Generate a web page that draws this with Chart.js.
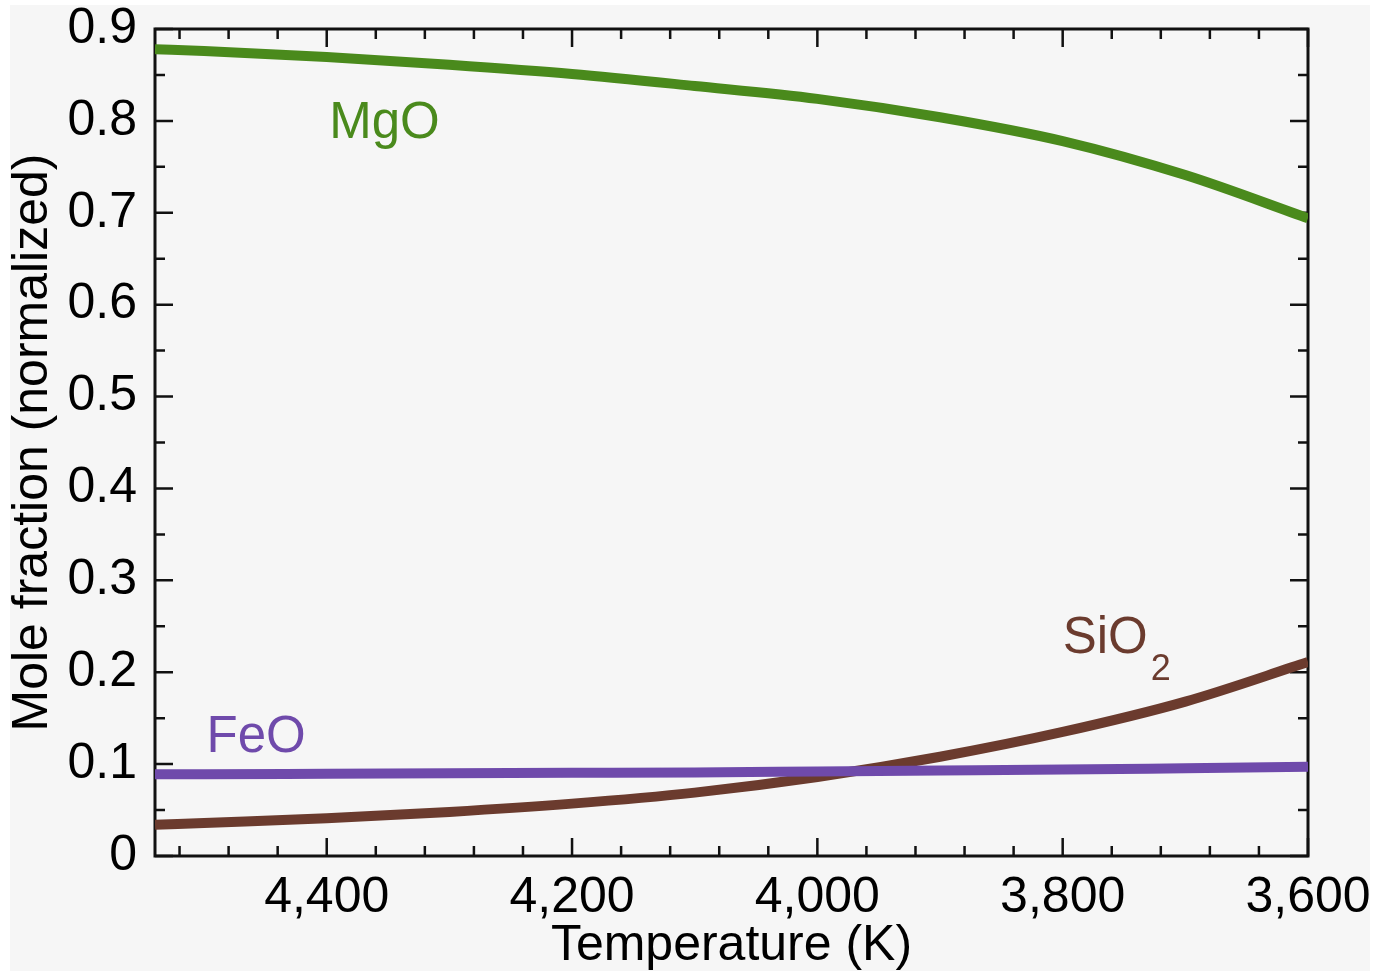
<!DOCTYPE html>
<html>
<head>
<meta charset="utf-8">
<script src="https://cdn.jsdelivr.net/npm/chart.js@4/dist/chart.umd.min.js"></script>
<style>
  html, body { margin: 0; padding: 0; background: #ffffff; }
  #wrap { position: absolute; left: 0; top: 0; width: 1390px; height: 971px; }
</style>
</head>
<body>
<div id="wrap"><canvas id="c" width="1390" height="971"></canvas></div>
<script>
// ---- data ----
const temperatures = [4540, 4500, 4400, 4300, 4200, 4100, 4000, 3900, 3800, 3700, 3600];
const mgoValues  = [0.878, 0.876, 0.8695, 0.861, 0.851, 0.838, 0.824, 0.804, 0.778, 0.741, 0.694];
const sio2Values = [0.034, 0.036, 0.041, 0.048, 0.057, 0.069, 0.086, 0.108, 0.135, 0.168, 0.211];
const feoValues  = [0.089, 0.089, 0.0895, 0.090, 0.0905, 0.091, 0.092, 0.093, 0.094, 0.0955, 0.097];

const xTickValues = [4400, 4200, 4000, 3800, 3600];
const xMinorTicks = [4520, 4480, 4440, 4360, 4320, 4280, 4240, 4160, 4120, 4080, 4040, 3960, 3920, 3880, 3840, 3760, 3720, 3680, 3640];
const yTickValues = [0, 0.1, 0.2, 0.3, 0.4, 0.5, 0.6, 0.7, 0.8, 0.9];
const yTickLabels = ['0', '0.1', '0.2', '0.3', '0.4', '0.5', '0.6', '0.7', '0.8', '0.9'];
const yMinorTicks = [0.05, 0.15, 0.25, 0.35, 0.45, 0.55, 0.65, 0.75, 0.85];
const xRange = [3600, 4540];
const yRange = [0, 0.9];

const seriesLabels = [
  { text: 'MgO', sub: '', x: 4398, y: 0.781, color: '#4a8a1c' },
  { text: 'FeO', sub: '', x: 4498, y: 0.113, color: '#6f4aab' },
  { text: 'SiO', sub: '2', x: 3800, y: 0.221, color: '#6b3b2e' }
];

const FONT = '"Liberation Sans", Arial, Helvetica, sans-serif';

function pts(vals) { return temperatures.map((t, i) => ({ x: t, y: vals[i] })); }

const bgPlugin = {
  id: 'bg',
  beforeDraw(chart) {
    const ctx = chart.ctx;
    ctx.save();
    ctx.fillStyle = '#ffffff';
    ctx.fillRect(0, 0, chart.width, chart.height);
    ctx.fillStyle = '#f6f6f6';
    ctx.fillRect(10, 5, 1360, 966);
    ctx.restore();
  }
};

const framePlugin = {
  id: 'frame',
  beforeDatasetsDraw(chart) {
    const ctx = chart.ctx;
    const a = chart.chartArea;
    const xs = chart.scales.x, ys = chart.scales.y;
    ctx.save();
    ctx.strokeStyle = '#111111';
    ctx.lineWidth = 2.5;
    ctx.lineCap = 'butt';
    const major = 18, minor = 10;
    ctx.beginPath();
    xTickValues.forEach(v => {
      const px = xs.getPixelForValue(v);
      ctx.moveTo(px, a.bottom); ctx.lineTo(px, a.bottom - major);
      ctx.moveTo(px, a.top); ctx.lineTo(px, a.top + major);
    });
    xMinorTicks.forEach(v => {
      const px = xs.getPixelForValue(v);
      ctx.moveTo(px, a.bottom); ctx.lineTo(px, a.bottom - minor);
      ctx.moveTo(px, a.top); ctx.lineTo(px, a.top + minor);
    });
    yTickValues.forEach(v => {
      const py = ys.getPixelForValue(v);
      ctx.moveTo(a.left, py); ctx.lineTo(a.left + major, py);
      ctx.moveTo(a.right, py); ctx.lineTo(a.right - major, py);
    });
    yMinorTicks.forEach(v => {
      const py = ys.getPixelForValue(v);
      ctx.moveTo(a.left, py); ctx.lineTo(a.left + minor, py);
      ctx.moveTo(a.right, py); ctx.lineTo(a.right - minor, py);
    });
    ctx.stroke();
    ctx.lineWidth = 3;
    ctx.strokeRect(a.left, a.top, a.right - a.left, a.bottom - a.top);
    ctx.restore();
  },
  afterDatasetsDraw(chart) {
    const ctx = chart.ctx;
    const xs = chart.scales.x, ys = chart.scales.y;
    ctx.save();
    ctx.textBaseline = 'alphabetic';
    ctx.textAlign = 'left';
    seriesLabels.forEach(l => {
      const px = xs.getPixelForValue(l.x), py = ys.getPixelForValue(l.y);
      ctx.fillStyle = l.color;
      ctx.font = '51px ' + FONT;
      ctx.fillText(l.text, px, py);
      if (l.sub) {
        const w = ctx.measureText(l.text).width;
        ctx.font = '36px ' + FONT;
        ctx.fillText(l.sub, px + w + 3, py + 27);
      }
    });
    ctx.restore();
  }
};

const lineStyle = { borderWidth: 10, pointRadius: 0, fill: false, cubicInterpolationMode: 'monotone', borderCapStyle: 'butt' };

new Chart(document.getElementById('c'), {
  type: 'line',
  data: {
    datasets: [
      Object.assign({ label: 'MgO', data: pts(mgoValues), borderColor: '#4a8a1c' }, lineStyle),
      Object.assign({ label: 'FeO', data: pts(feoValues), borderColor: '#6f4aab' }, lineStyle),
      Object.assign({ label: 'SiO2', data: pts(sio2Values), borderColor: '#6b3b2e' }, lineStyle)
    ]
  },
  options: {
    responsive: false,
    animation: false,
    devicePixelRatio: 1,
    layout: { padding: { left: 0, top: 29, right: 82, bottom: 0 } },
    plugins: { legend: { display: false }, tooltip: { enabled: false } },
    scales: {
      x: {
        type: 'linear',
        reverse: true,
        min: xRange[0], max: xRange[1],
        grid: { display: false, drawTicks: false },
        border: { display: false },
        afterBuildTicks: s => { s.ticks = xTickValues.map(v => ({ value: v })); },
        afterFit: s => { s.height = 115; s.paddingLeft = 0; s.paddingRight = 0; },
        ticks: {
          color: '#000', padding: 12, maxRotation: 0, autoSkip: false,
          font: { family: FONT, size: 50 },
          callback: v => Number(v).toLocaleString('en-US')
        },
        title: { display: true, text: 'Temperature (K)', color: '#000', padding: { top: 0, bottom: 0 }, font: { family: FONT, size: 50, lineHeight: 1 } }
      },
      y: {
        type: 'linear',
        min: yRange[0], max: yRange[1],
        grid: { display: false, drawTicks: false },
        border: { display: false },
        afterBuildTicks: s => { s.ticks = yTickValues.map(v => ({ value: v })); },
        afterFit: s => { s.width = 155; s.paddingTop = 0; s.paddingBottom = 0; },
        ticks: {
          color: '#000', padding: 18, autoSkip: false,
          font: { family: FONT, size: 50 },
          callback: (v, i) => yTickLabels[i]
        },
        title: { display: true, text: 'Mole fraction (normalized)', color: '#000', padding: { top: 8, bottom: 0 }, font: { family: FONT, size: 50, lineHeight: 1 } }
      }
    }
  },
  plugins: [bgPlugin, framePlugin]
});
</script>
</body>
</html>
